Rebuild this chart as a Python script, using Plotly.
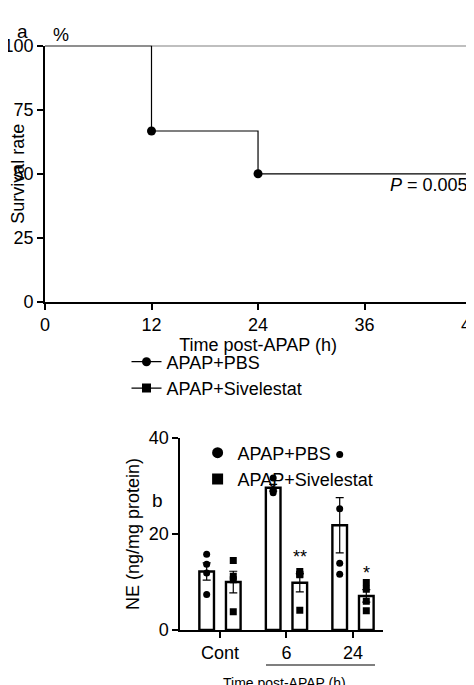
import plotly.graph_objects as go
import numpy as np

# Panel a data
time_pbs = [0, 12, 12, 24, 24, 48]
surv_pbs = [100, 100, 66.7, 66.7, 50, 50]
mark_t_pbs = [12, 24, 48]
mark_s_pbs = [66.7, 50, 50]
time_siv = [0, 48]
surv_siv = [100, 100]

# Panel b data
groups = ["Cont", "6", "24"]
pbs_pts = [[15.8, 13.7, 11.9, 7.4], [31.7, 29.3, 29.0, 28.6], [36.6, 25.3, 13.9, 11.6]]
siv_pts = [[14.5, 11.2, 10.5, 3.8], [12.2, 11.6, 11.5, 4.1], [9.9, 8.5, 6.0, 4.0]]
stars = ["", "**", "*"]

F = "Liberation Sans, Arial"
fig = go.Figure()
fig.add_trace(go.Scatter(x=time_pbs, y=surv_pbs, mode="lines", line=dict(color="black", width=1.2),
                         showlegend=False, xaxis="x", yaxis="y", cliponaxis=False))
fig.add_trace(go.Scatter(x=mark_t_pbs, y=mark_s_pbs, mode="markers", marker=dict(symbol="circle", size=9, color="black"),
                         showlegend=False, xaxis="x", yaxis="y", cliponaxis=False))
fig.add_trace(go.Scatter(x=time_siv, y=surv_siv, mode="lines", line=dict(color="black", width=1.2),
                         showlegend=False, xaxis="x", yaxis="y", cliponaxis=False))
fig.add_trace(go.Scatter(x=[48], y=[100], mode="markers", marker=dict(symbol="square", size=9, color="black"),
                         showlegend=False, xaxis="x", yaxis="y", cliponaxis=False))
# legend a
fig.add_trace(go.Scatter(x=[None], y=[None], mode="lines+markers", name="APAP+PBS",
                         line=dict(color="black", width=1.2), marker=dict(symbol="circle", size=9, color="black"),
                         legend="legend", xaxis="x", yaxis="y"))
fig.add_trace(go.Scatter(x=[None], y=[None], mode="lines+markers", name="APAP+Sivelestat",
                         line=dict(color="black", width=1.2), marker=dict(symbol="square", size=9, color="black"),
                         legend="legend", xaxis="x", yaxis="y"))

# Panel b
off = 0.2
xs = np.arange(len(groups))
for pts, sign, sym, name in [(pbs_pts, -1, "circle", "APAP+PBS"), (siv_pts, 1, "square", "APAP+Sivelestat")]:
    arr = np.array(pts)
    means = arr.mean(axis=1)
    sems = arr.std(axis=1, ddof=1) / np.sqrt(arr.shape[1])
    fig.add_trace(go.Bar(x=xs + sign * off, y=means, width=0.22, marker=dict(color="white", line=dict(color="black", width=2.4)),
                         error_y=dict(type="data", array=sems, color="black", thickness=1.2, width=4),
                         showlegend=False, xaxis="x2", yaxis="y2"))
    px = np.repeat(xs + sign * off, arr.shape[1])
    fig.add_trace(go.Scatter(x=px, y=arr.flatten(), mode="markers", marker=dict(symbol=sym, size=7, color="black"),
                             showlegend=False, xaxis="x2", yaxis="y2"))
    fig.add_trace(go.Scatter(x=[None], y=[None], mode="markers", name=name,
                             marker=dict(symbol=sym, size=11, color="black"), legend="legend2", xaxis="x2", yaxis="y2"))
siv_means = np.array(siv_pts).mean(axis=1)
siv_sem = np.array(siv_pts).std(axis=1, ddof=1) / 2
for i, s in enumerate(stars):
    if s:
        fig.add_annotation(x=xs[i] + off, y=siv_means[i] + siv_sem[i] + 1, text=s, showarrow=False, yanchor="bottom",
                           xref="x2", yref="y2", font=dict(size=18, family=F))

ax = dict(showline=True, linecolor="black", linewidth=1.5, ticks="outside", tickcolor="black", ticklen=6, tickwidth=1.5,
          showgrid=False, zeroline=False, automargin=False, tickfont=dict(size=18, family=F, color="black"))
fig.update_layout(
    width=474, height=685, margin=dict(l=0, r=0, t=0, b=0), plot_bgcolor="white", paper_bgcolor="white",
    font=dict(family=F, color="black"),
    xaxis=dict(**ax, domain=[0.078, 0.977], range=[0, 48], tickvals=[0, 12, 24, 36, 48],
               title=dict(text="Time post-APAP (h)", font=dict(size=18), standoff=2), anchor="y"),
    yaxis=dict(**ax, domain=[0.571, 0.945], range=[0, 100], tickvals=[0, 25, 50, 75, 100],
               title=dict(text="Survival rate", font=dict(size=18), standoff=4), anchor="x"),
    xaxis2=dict(**ax, domain=[0.363, 0.791], range=[-0.6, 2.45], tickvals=list(xs), ticktext=groups, anchor="y2"),
    yaxis2=dict(**ax, domain=[0.092, 0.372], range=[0, 40], tickvals=[0, 20, 40],
                title=dict(text="NE (ng/mg protein)", font=dict(size=18), standoff=4), anchor="x2"),
    legend=dict(x=0.25, y=1 - 367 / 685, xanchor="left", yanchor="middle", font=dict(size=18, family=F),
                bgcolor="rgba(0,0,0,0)", tracegroupgap=0, itemwidth=30),
    legend2=dict(x=0.40, y=1 - 458 / 685, xanchor="left", yanchor="middle", font=dict(size=18, family=F),
                 bgcolor="rgba(0,0,0,0)", tracegroupgap=0, itemwidth=30),
)
fig.add_annotation(x=0.995, y=1 - 165 / 685, xref="paper", yref="paper", text="<i>P</i> = 0.0054", showarrow=False,
                   xanchor="right", font=dict(size=18, family=F))
fig.add_annotation(x=0.015, y=1 - 11 / 685, xref="paper", yref="paper", text="a", showarrow=False, font=dict(size=19, family=F))
fig.add_annotation(x=0.09, y=1 - 15 / 685, xref="paper", yref="paper", text="%", showarrow=False, font=dict(size=18, family=F))
fig.add_annotation(x=0.30, y=1 - 505 / 685, xref="paper", yref="paper", text="b", showarrow=False, font=dict(size=19, family=F))
fig.add_shape(type="line", xref="paper", yref="paper", x0=258 / 474, x1=367 / 474, y0=1 - 657 / 685, y1=1 - 657 / 685,
              line=dict(color="black", width=1.2))
fig.add_annotation(x=276 / 474, y=1 - 665 / 685, xref="paper", yref="paper", text="Time post-APAP (h)", showarrow=False,
                   yanchor="top", font=dict(size=14, family=F))
fig.write_html("out.html")
